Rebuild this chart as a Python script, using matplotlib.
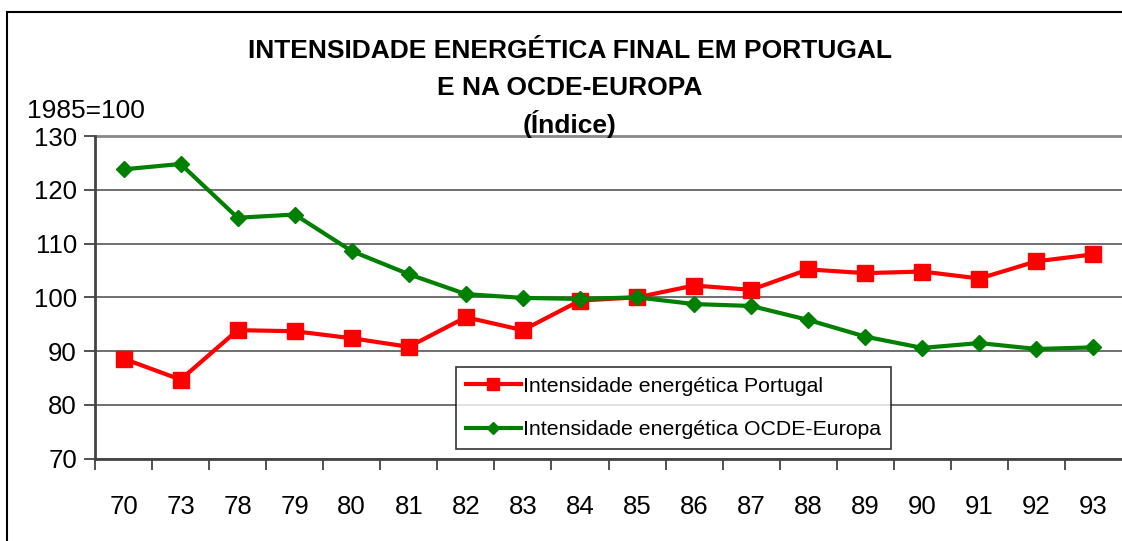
import matplotlib
matplotlib.use("Agg")
import matplotlib.pyplot as plt
from matplotlib.patches import Rectangle

plt.rcParams['font.family'] = ['Liberation Sans', 'DejaVu Sans']

# Data (1985 = 100)
anos = ["70", "73", "78", "79", "80", "81", "82", "83", "84",
        "85", "86", "87", "88", "89", "90", "91", "92", "93"]
portugal = [88.6, 84.7, 93.9, 93.7, 92.4, 90.8, 96.3, 93.9, 99.4,
            100.0, 102.2, 101.4, 105.2, 104.5, 104.8, 103.5, 106.7, 108.0]
ocde_europa = [123.8, 124.8, 114.8, 115.4, 108.6, 104.3, 100.6, 99.9, 99.7,
               100.0, 98.75, 98.4, 95.8, 92.7, 90.6, 91.5, 90.4, 90.7]
y_ticks = [70, 80, 90, 100, 110, 120, 130]


def main():
    fig = plt.figure(figsize=(11.22, 5.41), dpi=100)
    ax = fig.add_axes([95 / 1122, 1 - 458.7 / 541, 1 - 95 / 1122, (458.7 - 136) / 541])

    x = list(range(len(anos)))
    ax.plot(x, portugal, color='#FF0000', lw=3, marker='s', ms=11.5,
            label='Intensidade energética Portugal', zorder=3)
    ax.plot(x, ocde_europa, color='#008000', lw=3, marker='D', ms=8,
            label='Intensidade energética OCDE-Europa', zorder=4)

    ax.set_xlim(-0.5, len(anos) - 0.5)
    ax.set_ylim(70, 130)
    ax.set_yticks(y_ticks)
    ax.set_yticklabels([str(v) for v in y_ticks], fontsize=18.5)
    ax.set_xticks([i + 0.5 for i in range(-1, len(anos) - 1)])
    ax.set_xticklabels([])
    ax.set_xticks(x, minor=True)
    ax.set_xticklabels(anos, minor=True, fontsize=18.5)
    ax.tick_params(axis='x', which='major', direction='out', length=8, width=1.2, color='#333333')
    ax.tick_params(axis='x', which='minor', length=0, pad=26)
    ax.tick_params(axis='y', direction='out', length=8, width=1.2, color='#333333', pad=5)

    ax.grid(axis='y', color='#555555', lw=1.2)
    ax.set_axisbelow(True)
    for side in ['top', 'right']:
        ax.spines[side].set_visible(False)
    ax.spines['left'].set_color('#444444')
    ax.spines['left'].set_linewidth(2)
    ax.spines['bottom'].set_color('#444444')
    ax.spines['bottom'].set_linewidth(2)
    ax.axhline(130, color='#888888', lw=2, clip_on=False)

    fig.text(570 / 1122, 1 - 51 / 541, 'INTENSIDADE ENERGÉTICA FINAL EM PORTUGAL',
             ha='center', va='center', fontsize=19, fontweight='bold')
    fig.text(570 / 1122, 1 - 88 / 541, 'E NA OCDE-EUROPA',
             ha='center', va='center', fontsize=19, fontweight='bold')
    fig.text(570 / 1122, 1 - 124 / 541, '(Índice)',
             ha='center', va='center', fontsize=19, fontweight='bold')
    fig.text(27 / 1122, 1 - 111 / 541, '1985=100', ha='left', va='center', fontsize=19)

    leg = ax.legend(loc='upper left', bbox_to_anchor=(456 / 1122, 1 - 367 / 541),
                    bbox_transform=fig.transFigure, fontsize=15.3, frameon=True,
                    fancybox=False, edgecolor='black', handlelength=2.6,
                    handletextpad=0.1, borderpad=0.45, labelspacing=1.15,
                    borderaxespad=0)
    leg.get_frame().set_linewidth(1.2)
    for h in leg.legend_handles:
        h.set_markersize(h.get_markersize() * 0.75)

    fig.patches.append(Rectangle((7 / 1122, -0.05), 1.1, 1 - 12 / 541 + 0.05,
                                 transform=fig.transFigure, fill=False,
                                 edgecolor='black', lw=1.5))

    fig.savefig('out.png', dpi=100)


if __name__ == "__main__":
    main()
